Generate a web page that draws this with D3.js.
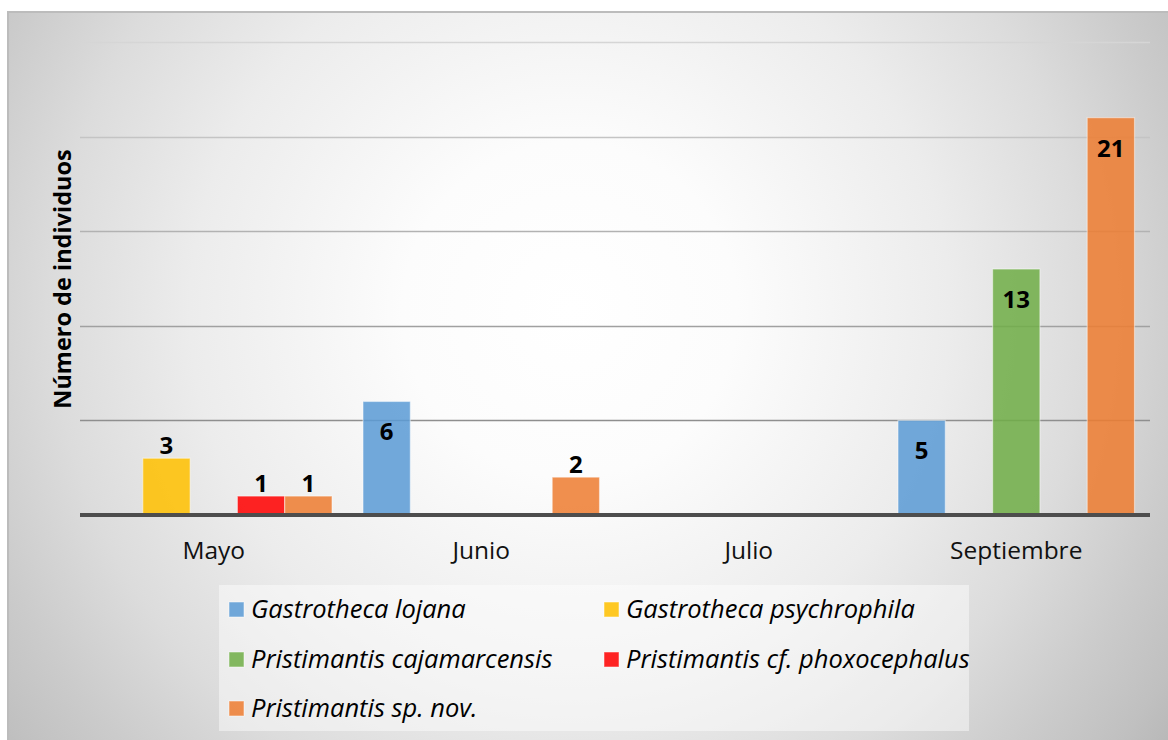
<!DOCTYPE html>
<html>
<head>
<meta charset="utf-8">
<script src="https://cdn.jsdelivr.net/npm/d3@7"></script>
<style>
  html, body { margin: 0; padding: 0; background: #ffffff; }
  svg { display: block; font-family: "Open Sans", "Noto Sans", sans-serif; }
</style>
</head>
<body>
<svg id="chart" width="1168" height="740"></svg>
<script>
// Monthly counts of individuals per species
const months = ["Mayo", "Junio", "Julio", "Septiembre"];
const species = [
  "Gastrotheca lojana",
  "Gastrotheca psychrophila",
  "Pristimantis cajamarcensis",
  "Pristimantis cf. phoxocephalus",
  "Pristimantis sp. nov."
];
const gastrothecaLojana = [0, 6, 0, 5];
const gastrothecaPsychrophila = [3, 0, 0, 0];
const pristimantisCajamarcensis = [0, 0, 0, 13];
const pristimantisPhoxocephalus = [1, 0, 0, 0];
const pristimantisSpNov = [1, 2, 0, 21];
const yTicks = [0, 5, 10, 15, 20, 25];
const speciesColors = ["#5B9BD5", "#FFC000", "#70AD47", "#FF0000", "#ED7D31"];

const seriesValues = [
  gastrothecaLojana,
  gastrothecaPsychrophila,
  pristimantisCajamarcensis,
  pristimantisPhoxocephalus,
  pristimantisSpNov
];

const svg = d3.select("#chart");
const W = 1168, H = 740;

// Chart area background: soft radial light
const defs = svg.append("defs");
const bg = defs.append("radialGradient")
  .attr("id", "bgGlow")
  .attr("gradientUnits", "userSpaceOnUse")
  .attr("cx", 570).attr("cy", 310).attr("r", 760);
[[0, "#ffffff"], [0.22, "#fcfcfc"], [0.5, "#ececec"], [0.68, "#dcdcdc"],
 [0.82, "#cbcbcb"], [0.92, "#c0c0c0"], [1, "#b4b4b4"]]
  .forEach(([o, c]) => bg.append("stop").attr("offset", o).attr("stop-color", c));

const gridGrad = defs.append("linearGradient")
  .attr("id", "gridShade")
  .attr("gradientUnits", "userSpaceOnUse")
  .attr("x1", 0).attr("y1", 40).attr("x2", 0).attr("y2", 425);
gridGrad.append("stop").attr("offset", 0).attr("stop-color", "#d6d6d6");
gridGrad.append("stop").attr("offset", 1).attr("stop-color", "#8e8e8e");

svg.append("rect")
  .attr("x", 8).attr("y", 12).attr("width", W - 8).attr("height", H - 12)
  .attr("fill", "url(#bgGlow)");
svg.append("path")
  .attr("d", `M8,${H} L8,12 L${W},12`)
  .attr("fill", "none").attr("stroke", "#bcbcbc").attr("stroke-width", 2);

// Scales
const plotLeft = 80, plotRight = 1150;
const x0 = d3.scaleBand().domain(months).range([plotLeft, plotRight]).padding(0);
const groupPad = 15.5;
const x1 = d3.scaleBand().domain(species)
  .range([groupPad, x0.bandwidth() - groupPad]).padding(0);
const y = d3.scaleLinear().domain([0, 25]).range([515, 42]);

// Gridlines
svg.append("g")
  .selectAll("line")
  .data(yTicks.filter(t => t > 0))
  .join("line")
  .attr("x1", plotLeft).attr("x2", plotRight)
  .attr("y1", d => Math.round(y(d)) + 0.5).attr("y2", d => Math.round(y(d)) + 0.5)
  .attr("stroke", "url(#gridShade)").attr("stroke-width", 1.3);

// Bars
const barData = [];
months.forEach((m, i) => {
  species.forEach((s, j) => {
    barData.push({ month: m, species: s, value: seriesValues[j][i], color: speciesColors[j] });
  });
});
const shown = barData.filter(d => d.value > 0);

svg.append("g")
  .selectAll("rect")
  .data(shown)
  .join("rect")
  .attr("x", d => x0(d.month) + x1(d.species))
  .attr("y", d => y(d.value))
  .attr("width", x1.bandwidth())
  .attr("height", d => y(0) - y(d.value))
  .attr("fill", d => d.color)
  .attr("fill-opacity", 0.86)
  .attr("stroke", "#ffffff").attr("stroke-opacity", 0.45).attr("stroke-width", 1.2);

// Value labels: inside the bar end for tall bars, above it for short ones
svg.append("g")
  .selectAll("text")
  .data(shown)
  .join("text")
  .attr("x", d => x0(d.month) + x1(d.species) + x1.bandwidth() / 2)
  .attr("y", d => d.value >= 5 ? y(d.value) + 39 : y(d.value) - 4)
  .attr("text-anchor", "middle")
  .attr("font-weight", "bold")
  .attr("font-size", 24)
  .attr("fill", "#000")
  .text(d => d.value);

// Baseline
svg.append("line")
  .attr("x1", plotLeft).attr("x2", plotRight)
  .attr("y1", y(0)).attr("y2", y(0))
  .attr("stroke", "#4d4d4d").attr("stroke-width", 4);

// Category axis labels
const xAxis = svg.append("g")
  .attr("transform", `translate(0,${y(0)})`)
  .call(d3.axisBottom(x0).tickSize(0).tickPadding(27));
xAxis.select(".domain").remove();
xAxis.selectAll("text")
  .attr("font-family", "\"Open Sans\", \"Noto Sans\", sans-serif")
  .attr("font-size", 24.5)
  .attr("fill", "#111");

// Y axis title
svg.append("text")
  .attr("transform", "translate(71,279) rotate(-90)")
  .attr("text-anchor", "middle")
  .attr("font-weight", "bold")
  .attr("font-size", 23.5)
  .attr("fill", "#000")
  .text("Número de individuos");

// Legend
const legend = svg.append("g");
legend.append("rect")
  .attr("x", 219).attr("y", 585).attr("width", 750).attr("height", 146)
  .attr("fill", "#ffffff").attr("fill-opacity", 0.45);

const legendCols = [229, 604];
const legendRows = [618, 668, 717];
const items = legend.selectAll("g.item")
  .data(species)
  .join("g")
  .attr("class", "item")
  .attr("transform", (d, i) => `translate(${legendCols[i % 2]},${legendRows[Math.floor(i / 2)]})`);
items.append("rect")
  .attr("x", 0).attr("y", -16).attr("width", 15).attr("height", 15)
  .attr("fill", (d, i) => speciesColors[i]).attr("fill-opacity", 0.86)
  .attr("stroke", "#ffffff").attr("stroke-opacity", 0.5).attr("stroke-width", 1);
items.append("text")
  .attr("x", 22).attr("y", 0)
  .attr("font-style", "italic")
  .attr("font-size", 25.5)
  .attr("fill", "#000")
  .text(d => d);
</script>
</body>
</html>
